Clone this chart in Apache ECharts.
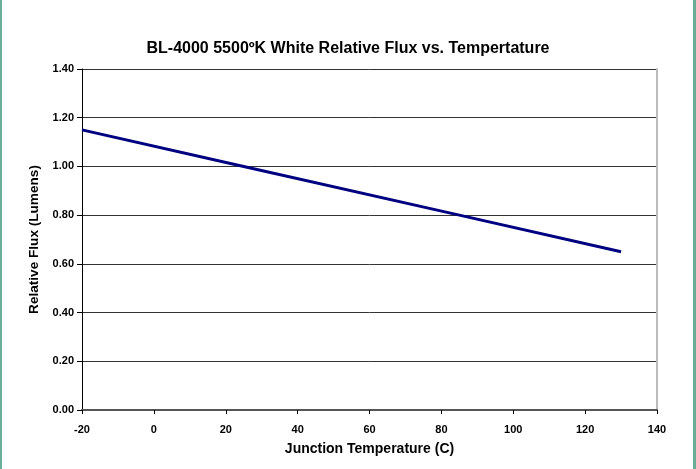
<!DOCTYPE html>
<html><head><meta charset="utf-8">
<script src="https://cdn.jsdelivr.net/npm/echarts@6/dist/echarts.min.js"></script>
<style>html,body{margin:0;padding:0;background:#fff}#c{width:696px;height:469px}</style>
</head><body><div id="c"></div>
<script>
const title = 'BL-4000 5500ºK White Relative Flux vs. Tempertature';
const xName = 'Junction Temperature (C)';
const yName = 'Relative Flux (Lumens)';
const temps = [-20, 25, 85, 130];
const flux = [1.15, 1.00, 0.80, 0.65];

const chart = echarts.init(document.getElementById('c'));
const font = 'Liberation Sans, Arial, sans-serif';
chart.setOption({
  animation: false,
  backgroundColor: '#fff',
  title: {text: title, left: 'center', top: 36, textStyle: {fontFamily: font, fontSize: 16, fontWeight: 'bold', color: '#000'}},
  grid: {left: 82, right: 39, top: 69, bottom: 59},
  xAxis: {
    type: 'value', min: -20, max: 140, interval: 20,
    name: xName, nameLocation: 'middle', nameGap: 32,
    nameTextStyle: {fontFamily: font, fontSize: 14, fontWeight: 'bold', color: '#000'},
    axisLine: {lineStyle: {color: '#555', width: 2}},
    axisTick: {show: true, inside: false, length: 4, lineStyle: {color: '#000'}},
    axisLabel: {fontFamily: font, fontSize: 11, fontWeight: 'bold', color: '#000', margin: 14},
    splitLine: {show: false}
  },
  yAxis: [{
    type: 'value', min: 0, max: 1.4, interval: 0.2,
    name: yName, nameLocation: 'middle', nameGap: 36, nameRotate: 90,
    nameTextStyle: {fontFamily: font, fontSize: 13.6, fontWeight: 'bold', color: '#000'},
    axisLine: {show: true, onZero: false, lineStyle: {color: '#000', width: 1}},
    axisTick: {show: true, length: 5, lineStyle: {color: '#000'}},
    axisLabel: {fontFamily: font, fontSize: 11, fontWeight: 'bold', color: '#000', margin: 8, formatter: v => v.toFixed(2)},
    splitLine: {show: true, lineStyle: {color: '#333', width: 1}}
  }, {
    type: 'value', min: 0, max: 1.4, interval: 0.2, position: 'right',
    axisLine: {show: true, onZero: false, lineStyle: {color: '#bbb', width: 2}},
    axisTick: {show: false}, axisLabel: {show: false}, splitLine: {show: false}
  }],
  series: [{
    type: 'line', data: temps.map((t, i) => [t, flux[i]]),
    symbol: 'none', lineStyle: {color: '#000080', width: 3}
  }],
  graphic: [
    {type: 'rect', left: 0, top: 0, shape: {width: 2, height: 469}, style: {fill: '#6aae9a'}},
    {type: 'rect', right: 0, top: 0, shape: {width: 3, height: 469}, style: {fill: '#6aae9a'}}
  ]
});
</script></body></html>
